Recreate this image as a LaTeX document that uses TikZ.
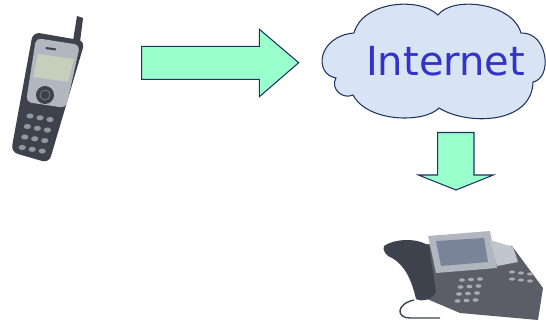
\documentclass[tikz,border=0pt]{standalone}
\usepackage{fontspec}
\newfontfamily\netfont{DejaVu Sans}
\usetikzlibrary{shapes,positioning}
\tikzset{>=stealth}
\definecolor{penColor}{RGB}{32,50,98}
\definecolor{arrowFill}{RGB}{153,255,204}
\definecolor{cloudFill}{RGB}{216,228,244}
\definecolor{textBlue}{RGB}{51,51,204}
\definecolor{phoneDark}{RGB}{62,66,76}
\definecolor{phoneSilver}{RGB}{178,182,192}
\definecolor{screenGreen}{RGB}{198,206,188}
\definecolor{keyGray}{RGB}{145,150,160}
\definecolor{deskScreen}{RGB}{122,132,152}

\begin{document}
\begin{tikzpicture}[x=0.02cm,y=-0.02cm]
		\useasboundingbox (0,0) rectangle (546,327);
		% mobile phone
		\fill[phoneDark] (77,16) -- (83,18) -- (80,42) -- (73,41) -- cycle;
		\fill[phoneDark, rounded corners=4pt] (33,32) -- (85,41) -- (49,163) -- (11,152) -- cycle;
		\fill[phoneSilver, rounded corners=3pt] (36,38) -- (80,45) -- (66,108) -- (26,102) -- cycle;
		\fill[screenGreen] (38,54) -- (74,59) -- (68,82) -- (33,77) -- cycle;
		\fill[phoneDark] (46,47) -- (56,48.5) -- (55.5,50.5) -- (45.5,49) -- cycle;
		\fill[phoneDark] (45,95) circle (9);
		\draw[phoneSilver!70!black] (45,95) circle (5);
		\foreach \r in {0,...,3}
			\foreach \c in {0,1,2}
				\fill[keyGray] ({30+10*\c-2.6*\r},{116+1.8*\c+10.5*\r}) ellipse (3.6 and 2.6);
		
		% arrows
		\draw[penColor, fill=arrowFill, line width=0.6pt] (141.7,46.3) -- (259.4,46.3) -- (259.4,29.3) -- (298.7,62.7) -- (259.4,96.7) -- (259.4,79.3) -- (141.7,79.3) -- cycle;
		\draw[penColor, fill=arrowFill, line width=0.6pt] (437.7,132.5) -- (474,132.5) -- (474,175) -- (493.3,175) -- (456,190) -- (418.3,175) -- (437.7,175) -- cycle;
		
		% cloud
		\draw[penColor, fill=cloudFill, line width=0.6pt] (336,78) .. controls (313,74) and (318,36) .. (354,33)
			.. controls (362,2) and (418,-4) .. (438,15)
			.. controls (452,-4) and (512,2) .. (521,33)
			.. controls (548,32) and (553,78) .. (533,82)
			.. controls (532,124) and (468,126) .. (439,108)
			.. controls (425,123) and (368,123) .. (353,95)
			.. controls (342,100) and (330,88) .. (336,78) -- cycle;
		\node[text=textBlue, font=\netfont\fontsize{22.8}{27}\selectfont, anchor=base, inner sep=0pt] (internet) at (445.7,76) {Internet};
		
		% desk phone
		\fill[phoneDark!85] (425,244) -- (512,246) -- (543,288) -- (538,320) -- (460,313) -- (420,296) -- cycle;
		\fill[phoneSilver] (428,236) -- (490,231) -- (497,268) -- (436,273) -- cycle;
		\fill[phoneSilver!80] (490,240) -- (513,247) -- (518,262) -- (497,266) -- cycle;
		\fill[deskScreen] (436,241) -- (484,238) -- (488,262) -- (441,266) -- cycle;
		\fill[phoneDark] (384,246) .. controls (396,238) and (418,238) .. (429,246) -- (436,292) .. controls (432,300) and (422,302) .. (416,299) .. controls (412,282) and (406,266) .. (392,258) .. controls (386,256) and (382,250) .. (384,246) -- cycle;
		\draw[phoneDark, thick] (414,300) .. controls (396,304) and (396,318) .. (410,318) -- (440,318);
		\foreach \r in {0,...,3}
			\foreach \c in {0,1,2}
				\fill[keyGray!80] ({462+9*\c-1.5*\r},{280-0.5*\c+7*\r}) ellipse (3 and 1.8);
		\foreach \r in {0,1}
			\foreach \c in {0,1,2}
				\fill[keyGray!80] ({512+9*\c},{272+\c+7*\r}) ellipse (3 and 1.6);
		
		
		
\end{tikzpicture}
\end{document}
